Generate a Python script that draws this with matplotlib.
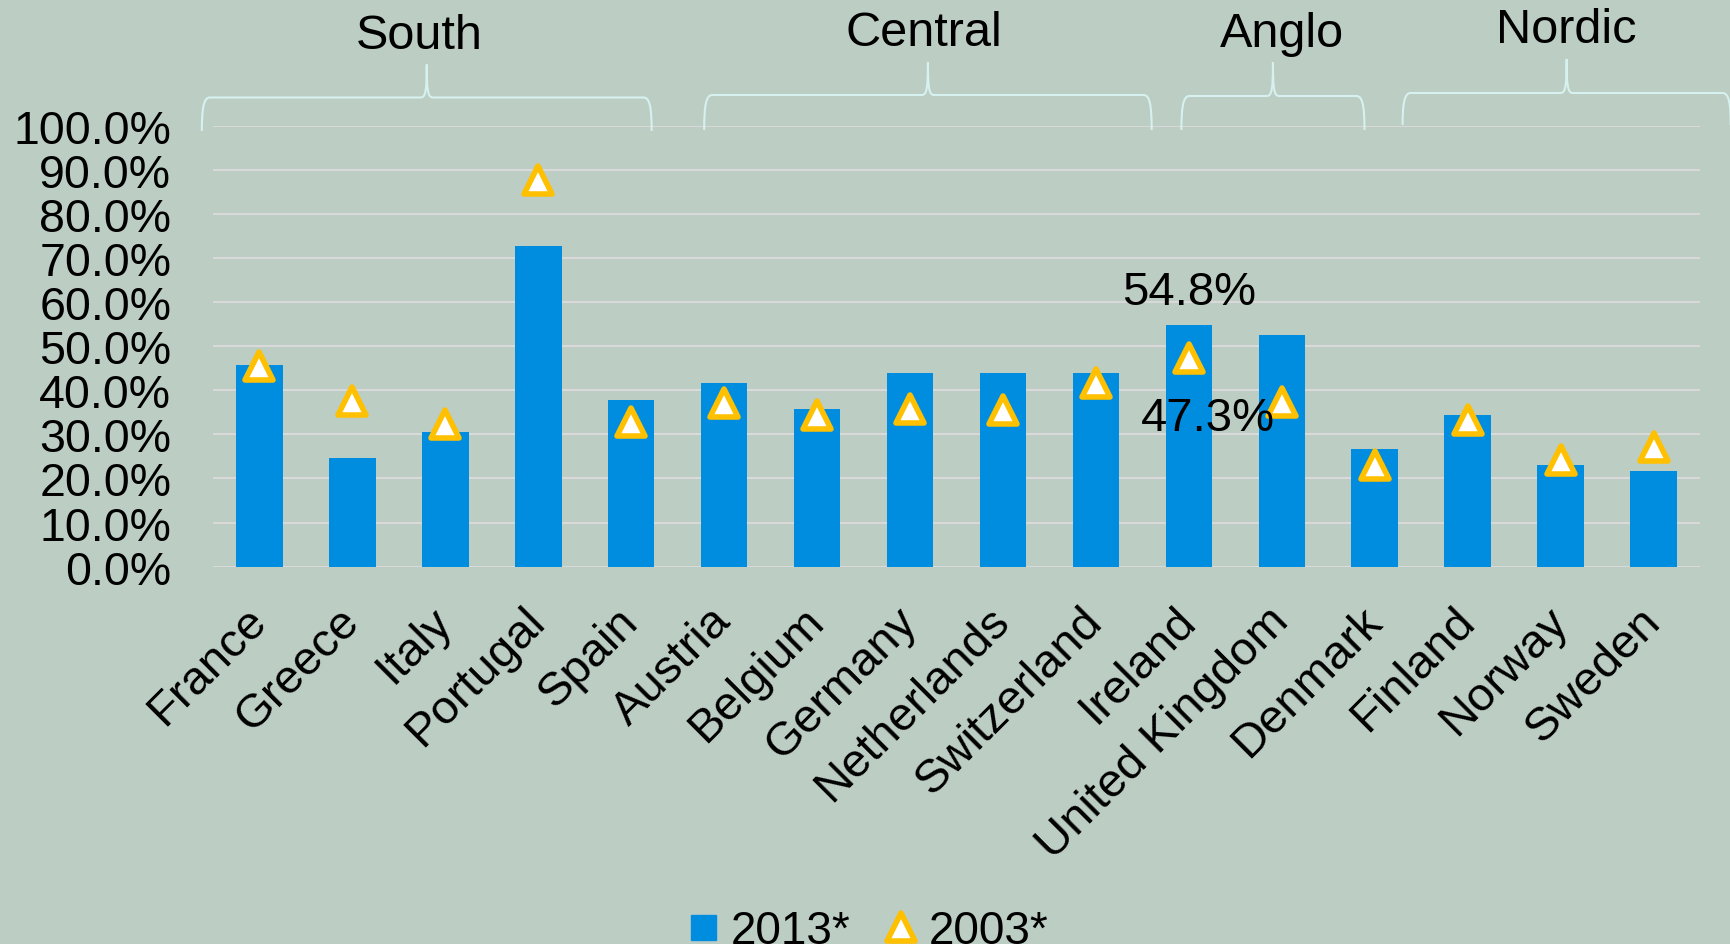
import matplotlib
matplotlib.use("Agg")
import matplotlib.pyplot as plt
from matplotlib.path import Path
from matplotlib.patches import PathPatch
from matplotlib.lines import Line2D
from matplotlib.markers import MarkerStyle
import numpy as np

# données (%)
countries = ['France', 'Greece', 'Italy', 'Portugal', 'Spain', 'Austria', 'Belgium',
             'Germany', 'Netherlands', 'Switzerland', 'Ireland', 'United Kingdom',
             'Denmark', 'Finland', 'Norway', 'Sweden']
v2013 = [45.7, 24.6, 30.5, 72.8, 37.9, 41.6, 35.8, 43.9, 43.9, 43.9,
         54.8, 52.5, 26.6, 34.3, 23.1, 21.6]
v2003 = [45.4, 37.5, 32.3, 87.6, 32.9, 37.0, 34.4, 35.7, 35.5, 41.7,
         47.3, 37.3, 23.1, 33.3, 24.2, 27.2]
groups = ['South', 'Central', 'Anglo', 'Nordic']
labelled = 'Ireland'

BG = '#bccdc3'
BLUE = '#008ddf'
GOLD = '#ffc000'
GRID = '#d9d9d9'
BRACE = '#d6f1ef'

plt.rcParams['font.family'] = ['Liberation Sans', 'DejaVu Sans']

W, H = 1730, 945
fig = plt.figure(figsize=(W / 100, H / 100), dpi=100, facecolor=BG)
ax = fig.add_axes([213 / W, 1 - 567.7 / H, (1700 - 213) / W, (567.7 - 126.6) / H])
ax.set_facecolor(BG)

x = np.arange(len(countries))
ax.bar(x, v2013, width=0.5, color=BLUE, zorder=2)
tri = MarkerStyle('^', joinstyle='round')
ax.plot(x, v2003, linestyle='none', marker=tri, markersize=20, markerfacecolor='white',
        markeredgecolor=GOLD, markeredgewidth=4, zorder=3)

ax.set_xlim(-0.5, len(countries) - 0.5)
ax.set_ylim(0, 100)
ax.set_yticks(np.arange(0, 101, 10))
ax.set_yticklabels([f'{t:.1f}%' for t in np.arange(0, 101, 10)], fontsize=33.5)
ax.yaxis.grid(True, color=GRID, linewidth=1.5, zorder=0)
ax.set_axisbelow(True)
for s in ax.spines.values():
    s.set_visible(False)
ax.tick_params(axis='y', length=0, pad=30)
ax.tick_params(axis='x', length=0, pad=34)
ax.set_xticks(x)
ax.set_xticklabels(countries, fontsize=34, rotation=45, ha='right', va='center',
                   rotation_mode='anchor')

# étiquettes de données pour l'Irlande
i = countries.index(labelled)
ax.annotate(f'{v2013[i]:.1f}%', (x[i], v2013[i]), xytext=(0, 15), textcoords='offset points',
            ha='center', va='baseline', fontsize=34)
ax.annotate(f'{v2003[i]:.1f}%', (x[i], v2003[i]), xytext=(13.5, -43), textcoords='offset points',
            ha='center', va='center', fontsize=34, zorder=4)

# accolades des groupes (x en unités de catégorie, y en pixels)
spans = [(-0.62, 4.22), (4.785, 9.60), (9.92, 11.89), (12.30, 15.83)]
heights = [(98.5, 65.5, 132, 49), (96, 63, 131, 46), (97, 63, 131, 47), (94, 60, 126, 43)]
text_shift = [-8, -4, 9, 0]


def px(xp, yp):
    return (xp / W, 1 - yp / H)


for name, (a, b), (yh, yt, yb, ytxt), dx in zip(groups, spans, heights, text_shift):
    x0 = ax.transData.transform((a, 0))[0]
    x1 = ax.transData.transform((b, 0))[0]
    xm = (x0 + x1) / 2
    pts = [(x0, yb), (x0, yh + 10), (x0 + 2, yh), (x0 + 8, yh),
           (xm - 6, yh),
           (xm - 1, yh), (xm, yh - 8), (xm, yt),
           (xm, yh - 8), (xm + 1, yh), (xm + 6, yh),
           (x1 - 8, yh),
           (x1 - 2, yh), (x1, yh + 10), (x1, yb)]
    codes = [Path.MOVETO, Path.CURVE4, Path.CURVE4, Path.CURVE4, Path.LINETO,
             Path.CURVE4, Path.CURVE4, Path.CURVE4, Path.CURVE4, Path.CURVE4, Path.CURVE4,
             Path.LINETO, Path.CURVE4, Path.CURVE4, Path.CURVE4]
    path = Path([px(*p) for p in pts], codes)
    fig.patches.append(PathPatch(path, transform=fig.transFigure, facecolor='none',
                                 edgecolor=BRACE, linewidth=1.5))
    fig.text((xm + dx) / W, 1 - ytxt / H, name, ha='center', va='baseline', fontsize=35)

handles = [Line2D([], [], linestyle='none', marker='s', markersize=18, color=BLUE),
           Line2D([], [], linestyle='none', marker=tri, markersize=20, markerfacecolor='white',
                  markeredgecolor=GOLD, markeredgewidth=4)]
fig.legend(handles, ['2013*', '2003*'], loc='center', bbox_to_anchor=(0.501, 0.014),
           ncol=2, frameon=False, fontsize=33, handlelength=0.8, handletextpad=0.2,
           columnspacing=0.7, borderaxespad=0)

fig.savefig('out.png', dpi=100, facecolor=BG)
